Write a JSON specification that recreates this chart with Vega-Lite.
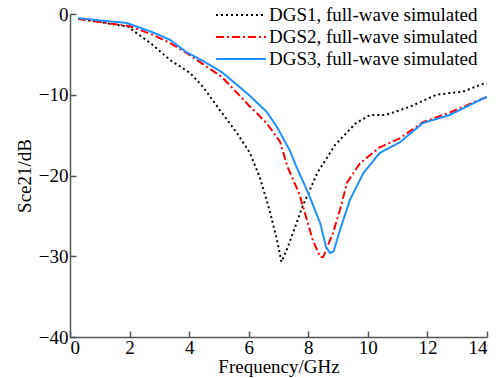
{
  "$schema": "https://vega.github.io/schema/vega-lite/v6.json",
  "width": 417,
  "height": 323,
  "autosize": "none",
  "padding": {"left": 70, "top": 14, "right": 16, "bottom": 41},
  "background": "white",
  "config": {
    "view": {"stroke": null},
    "font": "Liberation Serif",
    "axis": {"grid": false, "domainColor": "#555", "tickColor": "#555", "labelColor": "#000", "titleColor": "#000", "labelFont": "Liberation Serif", "titleFont": "Liberation Serif", "labelFontSize": 19, "titleFontSize": 19, "titleFontWeight": "normal", "tickSize": -6, "domainWidth": 1.5, "tickWidth": 1.5}
  },
  "data": {"values": [
    {"s":"DGS1, full-wave simulated","f":0.27,"v":-0.6},
    {"s":"DGS1, full-wave simulated","f":1.0,"v":-1.0},
    {"s":"DGS1, full-wave simulated","f":2.0,"v":-1.6},
    {"s":"DGS1, full-wave simulated","f":2.1,"v":-2.0},
    {"s":"DGS1, full-wave simulated","f":2.7,"v":-3.6},
    {"s":"DGS1, full-wave simulated","f":3.36,"v":-5.7},
    {"s":"DGS1, full-wave simulated","f":4.03,"v":-7.3},
    {"s":"DGS1, full-wave simulated","f":4.46,"v":-9.0},
    {"s":"DGS1, full-wave simulated","f":5.03,"v":-11.9},
    {"s":"DGS1, full-wave simulated","f":5.6,"v":-14.7},
    {"s":"DGS1, full-wave simulated","f":6.04,"v":-17.2},
    {"s":"DGS1, full-wave simulated","f":6.37,"v":-20.2},
    {"s":"DGS1, full-wave simulated","f":6.7,"v":-24.3},
    {"s":"DGS1, full-wave simulated","f":6.95,"v":-28.0},
    {"s":"DGS1, full-wave simulated","f":7.1,"v":-30.7},
    {"s":"DGS1, full-wave simulated","f":7.3,"v":-29.0},
    {"s":"DGS1, full-wave simulated","f":7.8,"v":-23.9},
    {"s":"DGS1, full-wave simulated","f":8.3,"v":-19.7},
    {"s":"DGS1, full-wave simulated","f":8.9,"v":-16.2},
    {"s":"DGS1, full-wave simulated","f":9.6,"v":-13.5},
    {"s":"DGS1, full-wave simulated","f":10.07,"v":-12.5},
    {"s":"DGS1, full-wave simulated","f":10.6,"v":-12.5},
    {"s":"DGS1, full-wave simulated","f":11.4,"v":-11.5},
    {"s":"DGS1, full-wave simulated","f":12.3,"v":-10.0},
    {"s":"DGS1, full-wave simulated","f":13.2,"v":-9.6},
    {"s":"DGS1, full-wave simulated","f":13.9,"v":-8.6},
    {"s":"DGS1, full-wave simulated","f":14.0,"v":-8.6},
    {"s":"DGS2, full-wave simulated","f":0.27,"v":-0.6},
    {"s":"DGS2, full-wave simulated","f":1.0,"v":-1.0},
    {"s":"DGS2, full-wave simulated","f":2.0,"v":-1.5},
    {"s":"DGS2, full-wave simulated","f":2.8,"v":-2.6},
    {"s":"DGS2, full-wave simulated","f":3.36,"v":-3.6},
    {"s":"DGS2, full-wave simulated","f":3.9,"v":-4.8},
    {"s":"DGS2, full-wave simulated","f":4.5,"v":-6.3},
    {"s":"DGS2, full-wave simulated","f":5.1,"v":-7.8},
    {"s":"DGS2, full-wave simulated","f":6.0,"v":-11.3},
    {"s":"DGS2, full-wave simulated","f":6.6,"v":-13.5},
    {"s":"DGS2, full-wave simulated","f":7.05,"v":-15.8},
    {"s":"DGS2, full-wave simulated","f":7.3,"v":-18.9},
    {"s":"DGS2, full-wave simulated","f":7.7,"v":-22.3},
    {"s":"DGS2, full-wave simulated","f":8.15,"v":-28.0},
    {"s":"DGS2, full-wave simulated","f":8.4,"v":-30.1},
    {"s":"DGS2, full-wave simulated","f":8.5,"v":-30.1},
    {"s":"DGS2, full-wave simulated","f":8.83,"v":-27.1},
    {"s":"DGS2, full-wave simulated","f":9.06,"v":-24.3},
    {"s":"DGS2, full-wave simulated","f":9.3,"v":-20.9},
    {"s":"DGS2, full-wave simulated","f":9.73,"v":-18.5},
    {"s":"DGS2, full-wave simulated","f":10.4,"v":-16.5},
    {"s":"DGS2, full-wave simulated","f":11.07,"v":-15.4},
    {"s":"DGS2, full-wave simulated","f":11.85,"v":-13.4},
    {"s":"DGS2, full-wave simulated","f":12.75,"v":-12.2},
    {"s":"DGS2, full-wave simulated","f":13.9,"v":-10.4},
    {"s":"DGS2, full-wave simulated","f":14.0,"v":-10.3},
    {"s":"DGS3, full-wave simulated","f":0.27,"v":-0.5},
    {"s":"DGS3, full-wave simulated","f":1.0,"v":-0.8},
    {"s":"DGS3, full-wave simulated","f":1.9,"v":-1.1},
    {"s":"DGS3, full-wave simulated","f":2.8,"v":-2.3},
    {"s":"DGS3, full-wave simulated","f":3.36,"v":-3.2},
    {"s":"DGS3, full-wave simulated","f":3.9,"v":-4.7},
    {"s":"DGS3, full-wave simulated","f":4.6,"v":-6.1},
    {"s":"DGS3, full-wave simulated","f":5.1,"v":-7.2},
    {"s":"DGS3, full-wave simulated","f":6.0,"v":-10.0},
    {"s":"DGS3, full-wave simulated","f":6.6,"v":-12.1},
    {"s":"DGS3, full-wave simulated","f":6.95,"v":-14.0},
    {"s":"DGS3, full-wave simulated","f":7.38,"v":-16.9},
    {"s":"DGS3, full-wave simulated","f":7.6,"v":-18.9},
    {"s":"DGS3, full-wave simulated","f":8.0,"v":-22.2},
    {"s":"DGS3, full-wave simulated","f":8.4,"v":-25.9},
    {"s":"DGS3, full-wave simulated","f":8.6,"v":-28.9},
    {"s":"DGS3, full-wave simulated","f":8.73,"v":-29.6},
    {"s":"DGS3, full-wave simulated","f":8.85,"v":-29.4},
    {"s":"DGS3, full-wave simulated","f":9.06,"v":-26.8},
    {"s":"DGS3, full-wave simulated","f":9.4,"v":-23.0},
    {"s":"DGS3, full-wave simulated","f":9.85,"v":-19.7},
    {"s":"DGS3, full-wave simulated","f":10.4,"v":-17.2},
    {"s":"DGS3, full-wave simulated","f":11.07,"v":-15.9},
    {"s":"DGS3, full-wave simulated","f":11.85,"v":-13.5},
    {"s":"DGS3, full-wave simulated","f":12.75,"v":-12.5},
    {"s":"DGS3, full-wave simulated","f":13.9,"v":-10.4},
    {"s":"DGS3, full-wave simulated","f":14.0,"v":-10.3}
  ]},
  "mark": {"type": "line", "strokeWidth": 2},
  "encoding": {
    "x": {"field": "f", "type": "quantitative", "scale": {"domain": [0, 14], "nice": false}, "axis": {"values": [0,2,4,6,8,10,12,14], "title": "Frequency/GHz", "titlePadding": 0, "labelPadding": 7}},
    "y": {"field": "v", "type": "quantitative", "scale": {"domain": [-40, 0], "nice": false}, "axis": {"values": [-40,-30,-20,-10,0], "title": "Sce21/dB", "titlePadding": 4, "labelPadding": 8}},
    "color": {"field": "s", "type": "nominal", "scale": {"domain": ["DGS1, full-wave simulated","DGS2, full-wave simulated","DGS3, full-wave simulated"], "range": ["#000000", "#ff0000", "#1e90ff"]}, "legend": {"title": null, "orient": "none", "legendX": 160, "legendY": -10, "padding": 0, "symbolType": "M-2.5,0H2.5", "symbolSize": 400, "symbolStrokeWidth": 2, "labelFontSize": 19, "labelFont": "Liberation Serif", "labelColor": "#000", "labelLimit": 0, "rowPadding": 1, "labelOffset": 17}},
    "strokeDash": {"field": "s", "type": "nominal", "scale": {"domain": ["DGS1, full-wave simulated","DGS2, full-wave simulated","DGS3, full-wave simulated"], "range": [[2,3],[8,3,2,3],[1,0]]}, "legend": {"title": null}}
  }
}
